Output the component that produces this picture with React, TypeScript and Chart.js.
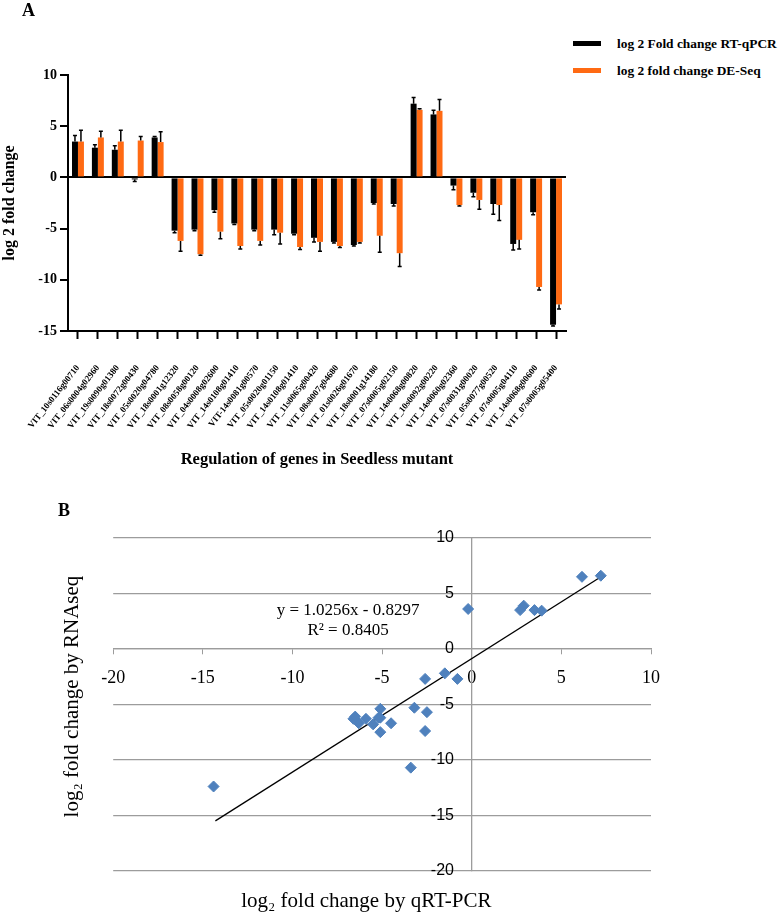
import { useEffect, useRef } from 'react';
import { Chart, registerables } from 'chart.js';

Chart.register(...registerables);

const SERIF = '"Liberation Serif", "Times New Roman", serif';
const SANS = '"Liberation Sans", Arial, sans-serif';
const ORANGE = '#FF6A13';
const GRID = '#9C9C9C';

// genes on the x axis of panel A
const genes = [
  'VIT_10s0116g00710', 'VIT_06s0004g02960', 'VIT_19s0090g01380', 'VIT_18s0072g00430',
  'VIT_05s0020g04780', 'VIT_18s0001g12320', 'VIT_08s0058g00120', 'VIT_04s0008g02600',
  'VIT_14s0108g01410', 'VIT-14s0081g00570', 'VIT_05s0020g01150', 'VIT_14s0108g01410',
  'VIT_11s0065g00420', 'VIT_08s0007g04680', 'VIT_01s0026g01670', 'VIT_18s0001g14180',
  'VIT_07s0005g02150', 'VIT_14s0068g00820', 'VIT_10s0092g00220', 'VIT_14s0060g02360',
  'VIT_07s0031g00020', 'VIT_05s0077g00520', 'VIT_07s0005g04110', 'VIT_14s0068g00600',
  'VIT_07s0005g05400',
];

// log2 fold change, RT-qPCR (black) and DE-Seq (orange)
const rtQpcr = [3.5, 2.9, 2.7, -0.2, 3.9, -5.2, -5.1, -3.2, -4.5, -5.1, -5.1, -5.5, -5.9, -6.3, -6.6, -2.5, -2.6, 7.2, 6.15, -0.8, -1.5, -2.6, -6.5, -3.4, -14.4];
const deSeq = [3.5, 3.9, 3.5, 3.6, 3.45, -6.2, -7.5, -5.3, -6.7, -6.2, -5.4, -6.8, -6.3, -6.7, -6.3, -5.7, -7.4, 6.6, 6.5, -2.7, -2.2, -2.7, -6.1, -10.7, -12.4];

// error bars (drawn away from zero)
const rtErr = [0.6, 0.3, 0.4, 0.2, 0.1, 0.2, 0.1, 0.2, 0.1, 0.1, 0.5, 0.1, 0.4, 0.1, 0.1, 0.1, 0.2, 0.6, 0.4, 0.4, 0.4, 1.0, 0.6, 0.25, 0.1];
const deErr = [1.1, 0.6, 1.1, 0.4, 1.0, 1.0, 0.1, 0.7, 0.3, 0.4, 1.1, 0.25, 0.9, 0.15, 0.1, 1.6, 1.3, 0.1, 1.1, 0.1, 0.9, 1.5, 0.9, 0.3, 0.45];
const ERRORS = [rtErr, deErr];

const yTicksA = [-15, -10, -5, 0, 5, 10];

// panel B trend line ends and its label
const trendX = [-14.3, 7.3];
const trendY = [-15.5, 6.6];
const eqLines = ['y = 1.0256x - 0.8297', 'R² = 0.8405'];
const eqAt = { x: -6.9, y: [3.5, 1.7] };

const errorBarPlugin = {
  id: 'errorBars',
  afterDatasetsDraw(chart: any) {
    const { ctx } = chart;
    const y = chart.scales.y;
    ctx.save();
    ctx.strokeStyle = '#000';
    ctx.lineWidth = 1.5;
    chart.data.datasets.forEach((ds: any, i: number) => {
      const errs = ERRORS[i];
      chart.getDatasetMeta(i).data.forEach((bar: any, j: number) => {
        const v = ds.data[j];
        const end = y.getPixelForValue(v + (v < 0 ? -errs[j] : errs[j]));
        ctx.beginPath();
        ctx.moveTo(bar.x, bar.y);
        ctx.lineTo(bar.x, end);
        ctx.moveTo(bar.x - 2, end);
        ctx.lineTo(bar.x + 2, end);
        ctx.stroke();
      });
    });
    ctx.restore();
  },
};

const equationPlugin = {
  id: 'equation',
  afterDatasetsDraw(chart: any) {
    const { ctx } = chart;
    const { x, y } = chart.scales;
    ctx.save();
    ctx.fillStyle = '#000';
    ctx.font = `17px ${SERIF}`;
    ctx.textAlign = 'center';
    ctx.textBaseline = 'middle';
    eqLines.forEach((t, i) => ctx.fillText(t, x.getPixelForValue(eqAt.x), y.getPixelForValue(eqAt.y[i])));
    ctx.restore();
  },
};

function BarPanel() {
  const ref = useRef<HTMLCanvasElement>(null);
  useEffect(() => {
    if (!ref.current) return;
    const bold = (size: number) => ({ family: SERIF, size, weight: 'bold' as const });
    const chart = new Chart(ref.current, {
      type: 'bar',
      data: {
        labels: genes,
        datasets: [
          { label: 'log 2 Fold change RT-qPCR', data: rtQpcr, backgroundColor: '#000' },
          { label: 'log 2 fold change DE-Seq', data: deSeq, backgroundColor: ORANGE },
        ],
      },
      options: {
        animation: false,
        responsive: true,
        maintainAspectRatio: false,
        layout: { padding: { top: 75, right: 6, left: 0, bottom: 0 } },
        datasets: { bar: { categoryPercentage: 0.6, barPercentage: 1 } },
        plugins: { legend: { display: false }, tooltip: { enabled: false } },
        scales: {
          x: {
            grid: { offset: false, drawOnChartArea: false, tickLength: 8, tickWidth: 2, tickColor: '#000', color: '#000' },
            border: { color: '#000', width: 2 },
            ticks: { autoSkip: false, maxRotation: 52, minRotation: 52, padding: 24, color: '#000', font: bold(9) },
            title: {
              display: true,
              text: 'Regulation of genes in Seedless mutant',
              color: '#000',
              font: bold(16.5),
              padding: { top: 0, bottom: 10 },
            },
            afterFit: (s: any) => {
              s.height = 149;
              s.paddingLeft = 0;
              s.paddingRight = 0;
            },
          },
          y: {
            min: -15,
            max: 10,
            afterBuildTicks: (s: any) => { s.ticks = yTicksA.map((value) => ({ value })); },
            ticks: { padding: 3, color: '#000', font: bold(14) },
            grid: {
              color: (c: any) => (c.tick && c.tick.value === 0 ? '#000' : 'rgba(0,0,0,0)'),
              lineWidth: 2,
              tickColor: '#000',
              tickLength: 8,
              tickWidth: 2,
            },
            border: { color: '#000', width: 2 },
            title: { display: true, text: 'log 2 fold change', color: '#000', font: bold(16), padding: { top: 0, bottom: 0 } },
            afterFit: (s: any) => { s.width = 68; },
          },
        },
      },
      plugins: [errorBarPlugin],
    });
    return () => chart.destroy();
  }, []);
  return (
    <div style={{ position: 'absolute', left: 0, top: 0, width: 572, height: 480 }}>
      <canvas ref={ref} />
    </div>
  );
}

function ScatterPanel() {
  const ref = useRef<HTMLCanvasElement>(null);
  useEffect(() => {
    if (!ref.current) return;
    const chart = new Chart(ref.current, {
      type: 'scatter',
      data: {
        datasets: [
          {
            label: 'genes',
            data: rtQpcr.map((x, i) => ({ x, y: deSeq[i] })),
            xAxisID: 'x',
            yAxisID: 'y',
            pointStyle: 'rectRot',
            pointRadius: 5.5,
            backgroundColor: '#4F81BD',
            borderColor: '#4F81BD',
            borderWidth: 1,
          },
          {
            type: 'line',
            label: 'trend',
            data: trendX.map((x, i) => ({ x, y: trendY[i] })),
            xAxisID: 'x',
            yAxisID: 'y',
            borderColor: '#000',
            borderWidth: 1.3,
            pointRadius: 0,
            fill: false,
          },
        ],
      },
      options: {
        animation: false,
        responsive: true,
        maintainAspectRatio: false,
        layout: { padding: { top: 24, left: 60, right: 127, bottom: 0 } },
        plugins: { legend: { display: false }, tooltip: { enabled: false } },
        scales: {
          x: {
            type: 'linear',
            position: { y: 0 },
            min: -20,
            max: 10,
            ticks: { stepSize: 5, padding: 14, color: '#000', font: { family: SERIF, size: 18 } },
            grid: { drawOnChartArea: false, tickLength: 5, color: GRID, tickColor: GRID },
            border: { color: GRID, width: 1.3 },
          },
          y: {
            type: 'linear',
            position: { x: 0 },
            min: -20,
            max: 10,
            // labels of an axis placed at x = 0 get no padding, so keep them off the line
            ticks: { stepSize: 5, color: '#000', font: { family: SANS, size: 16 }, callback: (v: any) => `${v}    ` },
            grid: { color: GRID, lineWidth: 1.3, drawTicks: false },
            border: { color: GRID, width: 1.3 },
          },
          xTitle: {
            type: 'linear',
            position: 'bottom',
            ticks: { display: false },
            grid: { display: false, drawTicks: false },
            border: { display: false },
            title: {
              display: true,
              text: 'log₂ fold change by qRT-PCR      ',
              color: '#000',
              font: { family: SERIF, size: 21 },
              padding: { top: 18, bottom: 0 },
            },
          },
          yTitle: {
            type: 'linear',
            position: 'left',
            ticks: { display: false },
            grid: { display: false, drawTicks: false },
            border: { display: false },
            title: {
              display: true,
              text: '   log₂ fold change by RNAseq',
              color: '#000',
              font: { family: SERIF, size: 21 },
              padding: { top: 0, bottom: 28 },
            },
          },
        },
      },
      plugins: [equationPlugin],
    });
    return () => chart.destroy();
  }, []);
  return (
    <div style={{ position: 'absolute', left: 0, top: 514, width: 778, height: 400 }}>
      <canvas ref={ref} />
    </div>
  );
}

const legendItems = [
  { text: 'log 2 Fold change RT-qPCR', color: '#000', top: 44 },
  { text: 'log 2 fold change DE-Seq', color: ORANGE, top: 71 },
];

export default function App() {
  const panelLetter = { position: 'absolute' as const, fontFamily: SERIF, fontWeight: 'bold' as const, fontSize: 18, lineHeight: '18px' };
  return (
    <div style={{ position: 'absolute', left: 0, top: 0, width: 778, height: 914, background: '#fff', overflow: 'hidden' }}>
      <BarPanel />
      <ScatterPanel />
      <div style={{ ...panelLetter, left: 22, top: 1 }}>A</div>
      <div style={{ ...panelLetter, left: 58, top: 501 }}>B</div>
      {legendItems.map((it) => (
        <div key={it.text}>
          <div style={{ position: 'absolute', left: 573, top: it.top - 3, width: 28, height: 5, background: it.color }} />
          <div
            style={{
              position: 'absolute', left: 617, top: it.top - 8, height: 16, lineHeight: '16px',
              fontFamily: SERIF, fontWeight: 'bold', fontSize: 13.4, color: '#000', whiteSpace: 'nowrap',
            }}
          >
            {it.text}
          </div>
        </div>
      ))}
    </div>
  );
}
